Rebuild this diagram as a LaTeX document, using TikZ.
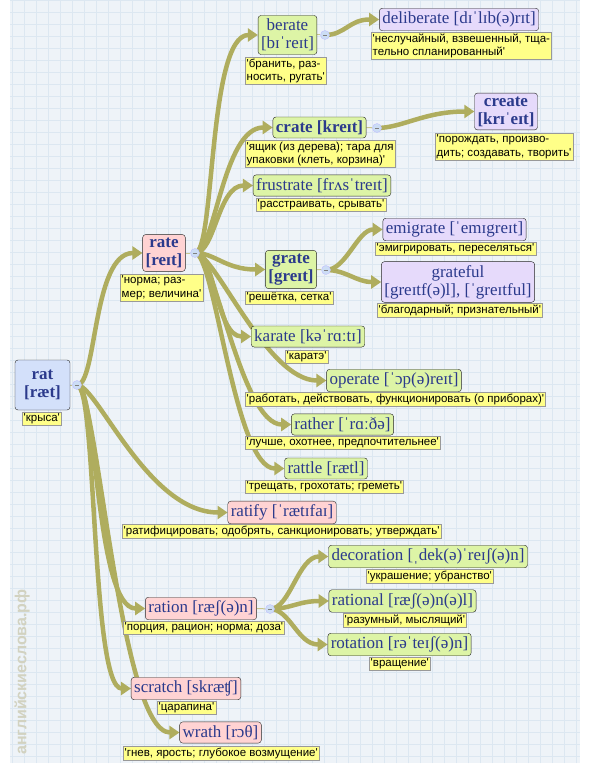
\documentclass[tikz,border=0pt]{standalone}
\usepackage{fontspec}
\setmainfont{Liberation Serif}
\newfontfamily\glossfont{Liberation Sans}
\usetikzlibrary{arrows.meta}

\definecolor{paper}{HTML}{EEF3F8}
\definecolor{gridcol}{HTML}{DCE7F1}
\definecolor{inkblue}{HTML}{2B3A8C}
\definecolor{rootfill}{HTML}{D3E0FA}
\definecolor{pinkfill}{HTML}{FFD3D3}
\definecolor{greenfill}{HTML}{DDF4A6}
\definecolor{lilacfill}{HTML}{E6DAFB}
\definecolor{glossfill}{HTML}{FFFF88}
\definecolor{linkcol}{HTML}{AFAD5E}
\definecolor{knobfill}{HTML}{CCDDF5}
\definecolor{wmgrey}{HTML}{D2D2C0}

\newcommand{\wordfont}{\fontsize{17}{18}\selectfont}
\newcommand{\glosssize}{\glossfont\fontsize{11.5}{13.5}\selectfont}

\pgfdeclarelayer{background}
\pgfsetlayers{background,main}

\tikzset{
  word/.style={draw=black!85, rounded corners=3pt, inner xsep=3pt, inner ysep=3.5pt,
    text=inkblue, font=\wordfont, align=center},
  headword/.style={word, font=\wordfont\bfseries},
  rootw/.style={fill=rootfill},
  pinkw/.style={fill=pinkfill},
  greenw/.style={fill=greenfill},
  lilacw/.style={fill=lilacfill},
  gloss/.style={draw=black!40, fill=glossfill, inner sep=1.5pt, font=\glosssize,
    align=left, anchor=north west},
  knob/.style={circle, draw=blue!25, fill=knobfill, minimum size=9pt, inner sep=0pt,
    path picture={\draw[gray, line width=0.6pt] ([xshift=-2pt]path picture bounding box.center)
      -- ([xshift=2pt]path picture bounding box.center);}},
  stub/.style={draw=linkcol!70, line width=1pt},
  link/.style={draw=linkcol, line width=4.5pt, -{Triangle[length=10pt,width=13pt]}}
}

\begin{document}
\begin{tikzpicture}[x=1pt,y=-1pt]
\useasboundingbox (0,0) rectangle (591,767);
\begin{pgfonlayer}{background}
  \fill[white] (0,0) rectangle (591,767);
  \fill[paper] (10,0) rectangle (580,763);
  \draw[gridcol, line width=0.5pt, step=12pt] (10,0) grid (580,763);
\end{pgfonlayer}

% watermark
\node[rotate=90, text=wmgrey, font=\glossfont\bfseries\fontsize{16}{16}\selectfont] (wmark)
  at (22,672) {английскиеслова.рф};

% root
\node[headword, rootw, minimum width=55pt, minimum height=50pt] (rat) at (42.5,385) {rat\\{[ræt]}};
\node[gloss] (ratG) at (22,412) {'крыса'};

% first level
\node[headword, pinkw] (rate) at (164,253) {rate\\{[reɪt]}};
\node[gloss] (rateG) at (120,274) {'норма; раз-\\мер; величина'};
\node[word, pinkw] (ratify) at (282,512.5) {ratify [ˈrætɪfaɪ]};
\node[gloss] (ratifyG) at (122,524) {'ратифицировать; одобрять, санкционировать; утверждать'};
\node[word, pinkw] (ration) at (201,608.5) {ration [ræʃ(ə)n]};
\node[gloss] (rationG) at (123,621) {'порция, рацион; норма; доза'};
\node[word, pinkw] (scratch) at (186,688.5) {scratch [skræʧ]};
\node[gloss] (scratchG) at (157,701) {'царапина'};
\node[word, pinkw] (wrath) at (220.5,732.5) {wrath [rɔθ]};
\node[gloss] (wrathG) at (123,746) {'гнев, ярость; глубокое возмущение'};

% words under rate
\node[word, greenw] (berate) at (287.5,35) {berate\\{[bɪˈreɪt]}};
\node[gloss] (berateG) at (245,57) {'бранить, раз-\\носить, ругать'};
\node[headword, greenw] (crate) at (319.5,127.5) {crate [kreɪt]};
\node[gloss] (crateG) at (245,140) {'ящик (из дерева); тара для\\упаковки (клеть, корзина)'};
\node[word, greenw] (frustrate) at (322,185.5) {frustrate [frʌsˈtreɪt]};
\node[gloss] (frustrateG) at (256,198) {'расстраивать, срывать'};
\node[headword, greenw] (grate) at (291,269.5) {grate\\{[greɪt]}};
\node[gloss] (grateG) at (245,291) {'решётка, сетка'};
\node[word, greenw] (karate) at (308,336.5) {karate [kəˈrɑːtɪ]};
\node[gloss] (karateG) at (285,350) {'каратэ'};
\node[word, greenw] (operate) at (394,380.5) {operate [ˈɔp(ə)reɪt]};
\node[gloss] (operateG) at (245,392) {'работать, действовать, функционировать (о приборах)'};
\node[word, greenw] (rather) at (342.5,424.5) {rather [ˈrɑːðə]};
\node[gloss] (ratherG) at (245,436) {'лучше, охотнее, предпочтительнее'};
\node[word, greenw] (rattle) at (326,468.5) {rattle [rætl]};
\node[gloss] (rattleG) at (245,480) {'трещать, грохотать; греметь'};

% words under ration
\node[word, greenw] (decoration) at (428,556.5) {decoration [ˌdek(ə)ˈreɪʃ(ə)n]};
\node[gloss] (decorationG) at (366,569) {'украшение; убранство'};
\node[word, greenw] (rational) at (402.5,601) {rational [ræʃ(ə)n(ə)l]};
\node[gloss] (rationalG) at (343,613) {'разумный, мыслящий'};
\node[word, greenw] (rotation) at (399.5,644.5) {rotation [rəˈteɪʃ(ə)n]};
\node[gloss] (rotationG) at (369,657) {'вращение'};

% third level
\node[word, lilacw] (deliberate) at (459,19.5) {deliberate [dɪˈlɪb(ə)rɪt]};
\node[gloss] (deliberateG) at (371,32) {'неслучайный, взвешенный, тща-\\тельно спланированный'};
\node[headword, lilacw] (create) at (506,111.5) {create\\{[krɪˈeɪt]}};
\node[gloss] (createG) at (435,133) {'порождать, произво-\\дить; создавать, творить'};
\node[word, lilacw] (emigrate) at (454.5,229.5) {emigrate [ˈemɪgreɪt]};
\node[gloss] (emigrateG) at (375,242) {'эмигрировать, переселяться'};
\node[word, lilacw] (grateful) at (458,282) {grateful\\{[greɪtf(ə)l], [ˈgreɪtful]}};
\node[gloss] (gratefulG) at (377,303) {'благодарный; признательный'};

% collapse knobs
\node[knob] (ratK) at (77,385) {};
\node[knob] (rateK) at (195,253) {};
\node[knob] (berateK) at (325,35) {};
\node[knob] (crateK) at (377,128) {};
\node[knob] (grateK) at (326,270) {};
\node[knob] (rationK) at (270,609) {};

\begin{pgfonlayer}{background}
  \draw[stub] (rat.east) -- (ratK);
  \draw[stub] (rate.east) -- (rateK);
  \draw[stub] (berate.east) -- (berateK);
  \draw[stub] (crate.east) -- (crateK);
  \draw[stub] (grate.east) -- (grateK);
  \draw[stub] (ration.east) -- (rationK);
  % from rat
  \draw[link] (ratK.center) .. controls +(20,0) and +(-50,0) .. (rate.west);
  \draw[link] (ratK.center) .. controls +(20,0) and +(-80,0) .. (ratify.west);
  \draw[link] (ratK.center) .. controls +(20,0) and +(-50,0) .. (ration.west);
  \draw[link] (ratK.center) .. controls +(20,0) and +(-40,0) .. (scratch.west);
  \draw[link] (ratK.center) .. controls +(20,0) and +(-60,0) .. (wrath.west);
  % from rate
  \draw[link] (rateK.center) .. controls +(20,0) and +(-50,0) .. (berate.west);
  \draw[link] (rateK.center) .. controls +(20,0) and +(-50,0) .. (crate.west);
  \draw[link] (rateK.center) .. controls +(20,0) and +(-35,0) .. (frustrate.west);
  \draw[link] (rateK.center) .. controls +(20,0) and +(-40,0) .. (grate.west);
  \draw[link] (rateK.center) .. controls +(20,0) and +(-35,0) .. (karate.west);
  \draw[link] (rateK.center) .. controls +(20,0) and +(-60,0) .. (operate.west);
  \draw[link] (rateK.center) .. controls +(20,0) and +(-50,0) .. (rather.west);
  \draw[link] (rateK.center) .. controls +(20,0) and +(-50,0) .. (rattle.west);
  % third level
  \draw[link] (berateK.center) .. controls +(20,0) and +(-30,0) .. (deliberate.west);
  \draw[link] (crateK.center) .. controls +(25,0) and +(-50,0) .. (create.west);
  \draw[link] (grateK.center) .. controls +(20,0) and +(-25,0) .. (emigrate.west);
  \draw[link] (grateK.center) .. controls +(20,0) and +(-25,0) .. (grateful.west);
  % from ration
  \draw[link] (rationK.center) .. controls +(20,0) and +(-30,0) .. (decoration.west);
  \draw[link] (rationK.center) .. controls +(20,0) and +(-30,0) .. (rational.west);
  \draw[link] (rationK.center) .. controls +(20,0) and +(-30,0) .. (rotation.west);
\end{pgfonlayer}
\end{tikzpicture}
\end{document}
